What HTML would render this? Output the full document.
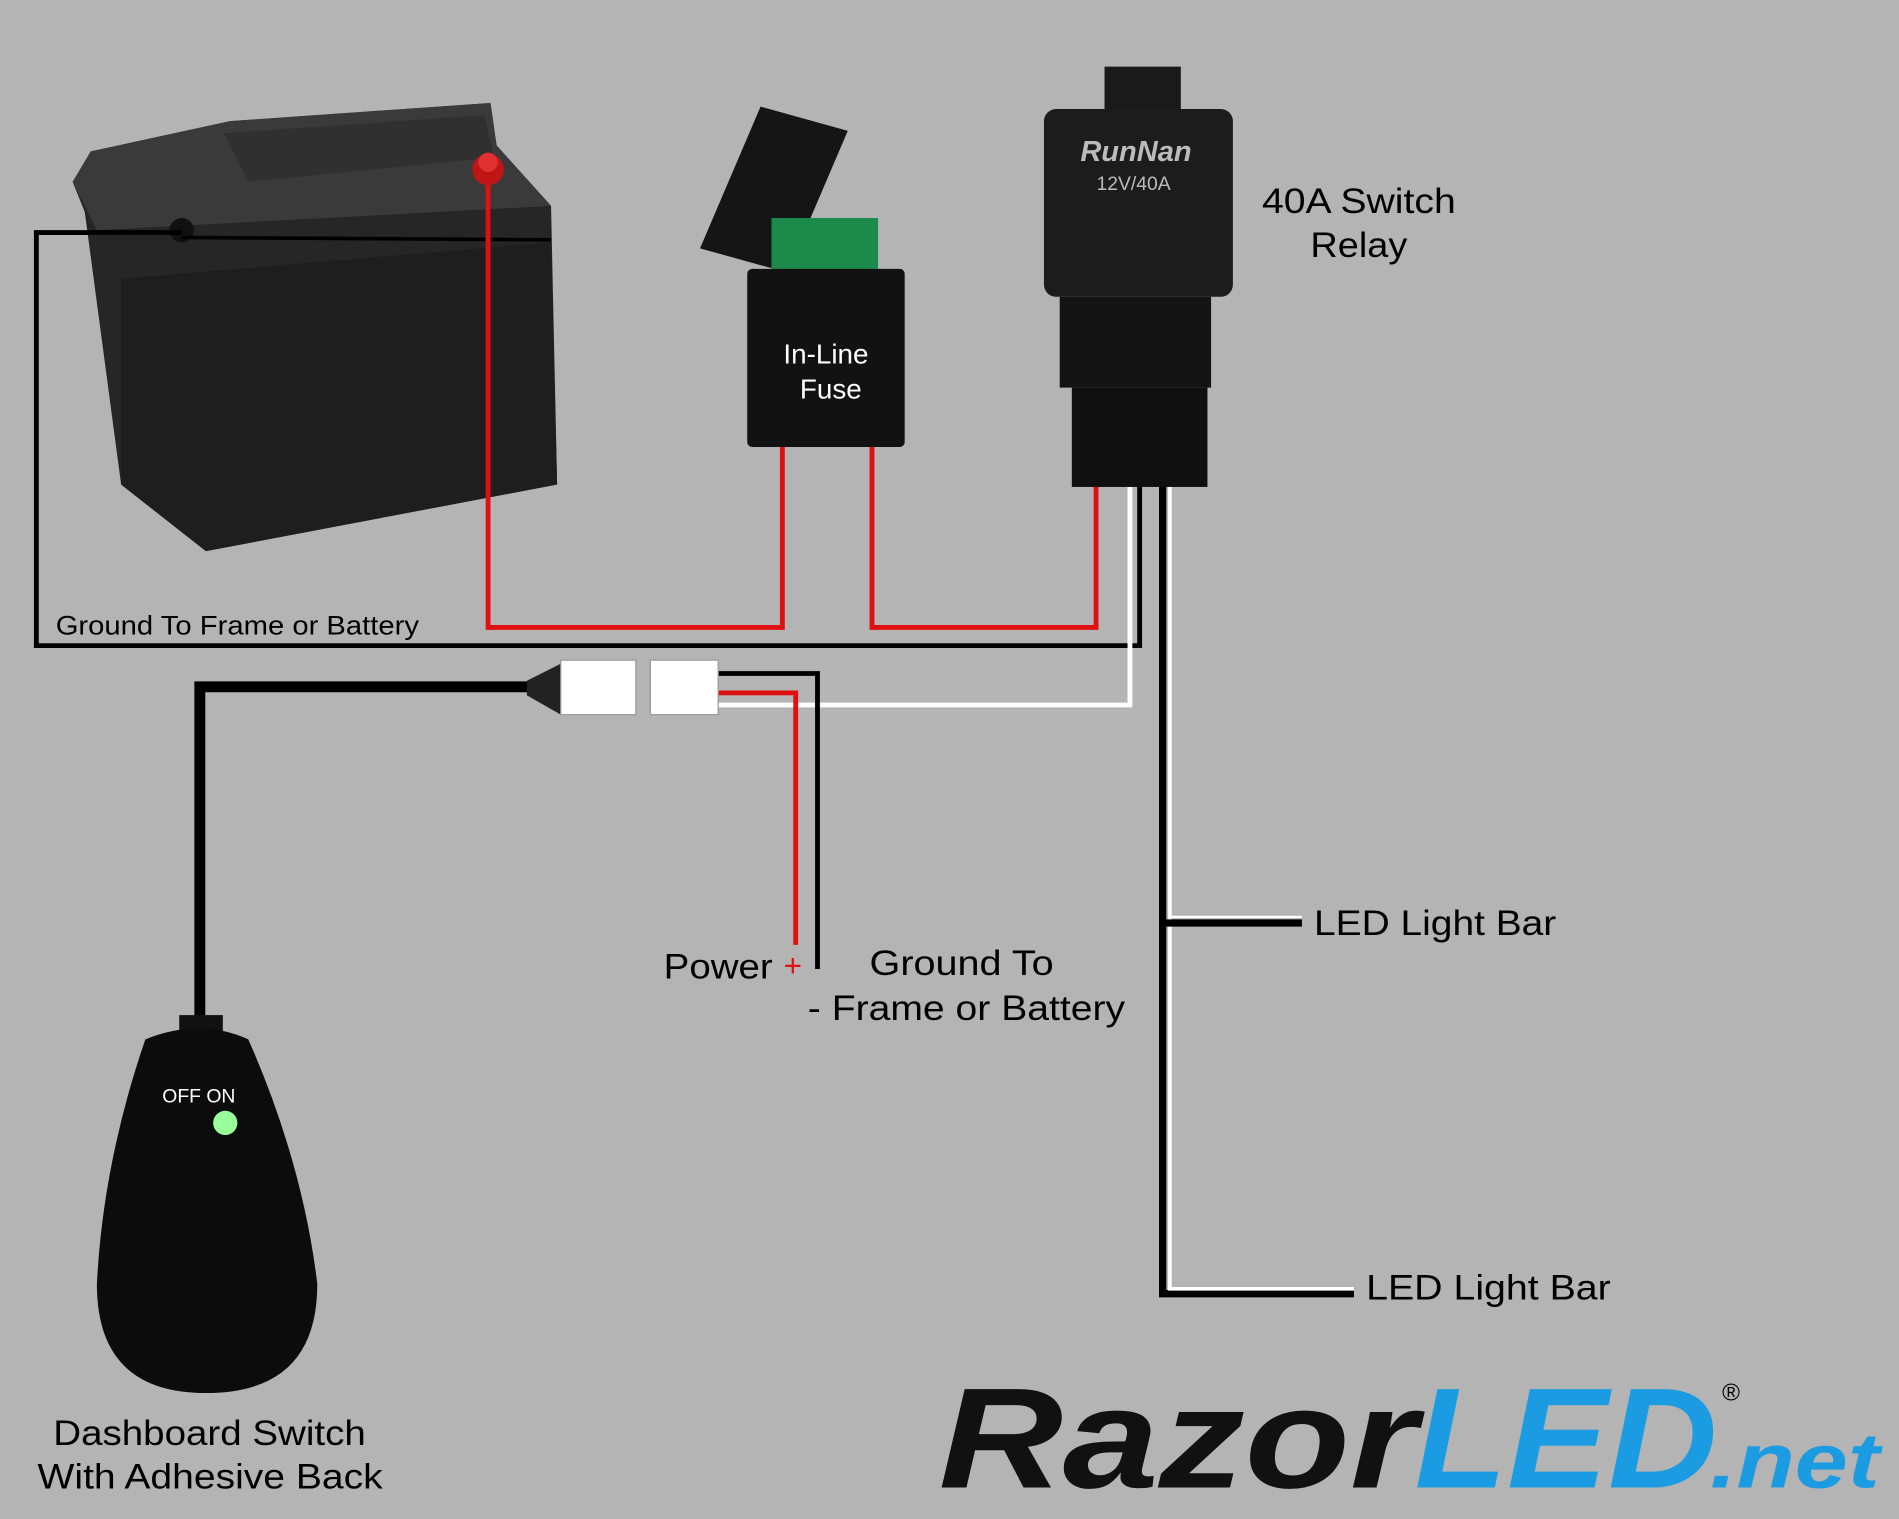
<!DOCTYPE html>
<html><head><meta charset="utf-8"><style>
html,body{margin:0;padding:0;background:#b4b4b4;}
svg{display:block;}
text{font-family:"Liberation Sans",sans-serif;}
</style></head><body>
<svg width="1899" height="1519" viewBox="0 0 1568 1254" preserveAspectRatio="none" xmlns="http://www.w3.org/2000/svg">
<rect width="1568" height="1254" fill="#b4b4b4"/>

<!-- battery -->
<polygon points="75,125 190,100 405,85 410,120 455,170 460,400 170,455 100,400 70,175 60,150" fill="#262626"/>
<polygon points="75,125 190,100 405,85 410,120 455,170 80,190 60,150" fill="#3a3a3a"/>
<polygon points="185,110 400,95 408,130 205,150" fill="#303030"/>
<polygon points="100,230 455,200 460,400 170,455 100,400" fill="#1e1e1e"/>
<circle cx="150" cy="190" r="10" fill="#111"/>

<!-- wires -->
<polyline points="150,192 30,192 30,533 941,533 941,400" fill="none" stroke="#000" stroke-width="4"/>
<line x1="150" y1="196" x2="455" y2="198" stroke="#000" stroke-width="3"/>
<polyline points="403,140 403,518 646,518 646,365" fill="none" stroke="#e01010" stroke-width="4"/>
<circle cx="403" cy="140" r="13" fill="#c01515"/>
<circle cx="403" cy="134" r="8" fill="#e03030"/>
<polyline points="720,365 720,518 905,518 905,400" fill="none" stroke="#e01010" stroke-width="4"/>
<polyline points="933,400 933,582 592,582" fill="none" stroke="#fff" stroke-width="4"/>
<polyline points="960,400 960,1068 1118,1068" fill="none" stroke="#000" stroke-width="6"/>
<polyline points="966,400 966,1064 1118,1064" fill="none" stroke="#fff" stroke-width="3"/>
<line x1="960" y1="762" x2="1075" y2="762" stroke="#000" stroke-width="6"/>
<line x1="966" y1="757" x2="1075" y2="757" stroke="#fff" stroke-width="2"/>
<polyline points="165,845 165,567 440,567" fill="none" stroke="#000" stroke-width="9"/>
<polyline points="592,556 675,556 675,800" fill="none" stroke="#000" stroke-width="4"/>
<polyline points="592,572 657,572 657,780" fill="none" stroke="#e01010" stroke-width="4"/>
<polygon points="435,562 463,548 463,590 435,574" fill="#222"/>
<rect x="463" y="545" width="62" height="45" fill="#fff" stroke="#999"/>
<rect x="537" y="545" width="56" height="45" fill="#fff" stroke="#999"/>

<!-- fuse -->
<polygon points="578,205 628,88 700,108 650,225" fill="#151515"/>
<rect x="637" y="180" width="88" height="45" fill="#1b8a4a"/>
<rect x="617" y="222" width="130" height="147" rx="4" fill="#121212"/>
<text x="682" y="300" font-size="23" fill="#fff" text-anchor="middle">In-Line</text>
<text x="686" y="329" font-size="23" fill="#fff" text-anchor="middle">Fuse</text>

<!-- relay -->
<rect x="912" y="55" width="63" height="45" fill="#1a1a1a"/>
<rect x="862" y="90" width="156" height="155" rx="10" fill="#1c1c1c"/>
<rect x="875" y="245" width="125" height="75" fill="#141414"/>
<rect x="885" y="320" width="112" height="82" fill="#101010"/>
<text x="938" y="133" font-size="24" font-style="italic" font-weight="bold" fill="#bbb" text-anchor="middle" font-family="Liberation Serif,serif">RunNan</text>
<text x="936" y="157" font-size="16" fill="#bbb" text-anchor="middle">12V/40A</text>
<text x="1042" y="176" font-size="29" fill="#000" textLength="160" lengthAdjust="spacingAndGlyphs">40A Switch</text>
<text x="1082" y="212" font-size="29" fill="#000" textLength="80" lengthAdjust="spacingAndGlyphs">Relay</text>

<!-- switch -->
<rect x="148" y="838" width="36" height="18" fill="#111"/>
<path d="M120,858 Q165,840 205,858 Q250,960 262,1060 Q262,1150 170,1150 Q80,1150 80,1060 Q85,960 120,858Z" fill="#0c0c0c"/>
<text x="134" y="910" font-size="16" fill="#fff">OFF ON</text>
<circle cx="186" cy="927" r="10" fill="#9f9"/>
<text x="44" y="1193" font-size="29" fill="#000" textLength="258" lengthAdjust="spacingAndGlyphs">Dashboard Switch</text>
<text x="31" y="1229" font-size="29" fill="#000" textLength="285" lengthAdjust="spacingAndGlyphs">With Adhesive Back</text>

<!-- labels -->
<text x="46" y="524" font-size="22" fill="#000" textLength="300" lengthAdjust="spacingAndGlyphs">Ground To Frame or Battery</text>
<text x="548" y="808" font-size="29" fill="#000" textLength="90" lengthAdjust="spacingAndGlyphs">Power</text>
<text x="647" y="806" font-size="26" fill="#e01010">+</text>
<text x="718" y="805" font-size="29" fill="#000" textLength="152" lengthAdjust="spacingAndGlyphs">Ground To</text>
<text x="667" y="842" font-size="29" fill="#000" textLength="262" lengthAdjust="spacingAndGlyphs">- Frame or Battery</text>
<text x="1085" y="772" font-size="29" fill="#000" textLength="200" lengthAdjust="spacingAndGlyphs">LED Light Bar</text>
<text x="1128" y="1073" font-size="29" fill="#000" textLength="202" lengthAdjust="spacingAndGlyphs">LED Light Bar</text>

<!-- logo -->
<text x="775" y="1228" font-size="118" font-weight="bold" font-style="italic" fill="#111" textLength="395" lengthAdjust="spacingAndGlyphs">Razor</text>
<text x="1168" y="1228" font-size="118" font-weight="bold" font-style="italic" fill="#1b9be2" textLength="250" lengthAdjust="spacingAndGlyphs">LED</text>
<text x="1412" y="1228" font-size="64" font-weight="bold" font-style="italic" fill="#1b9be2" textLength="140" lengthAdjust="spacingAndGlyphs">.net</text>
<text x="1422" y="1156" font-size="20" fill="#000">®</text>
</svg>
</body></html>
